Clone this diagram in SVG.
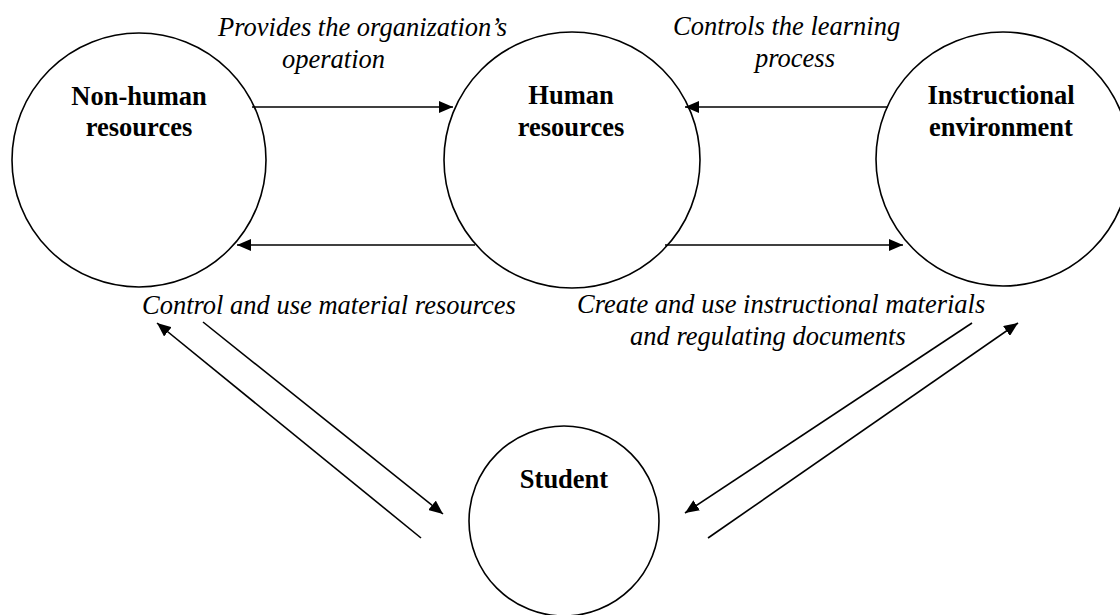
<svg xmlns="http://www.w3.org/2000/svg" width="1120" height="615" viewBox="0 0 1120 615">
  <style>
    .node { fill: #ffffff; stroke: #000000; stroke-width: 1.6; }
    .title { font-family: "Liberation Serif", "Times New Roman", serif; font-size: 26.5px; font-weight: bold; fill: #000000; text-anchor: middle; }
    .edge { stroke: #000000; stroke-width: 1.6; fill: none; marker-end: url(#head); }
    .note { font-family: "Liberation Serif", "Times New Roman", serif; font-size: 26.5px; font-style: italic; fill: #000000; }
  </style>
  <defs>
    <marker id="head" markerUnits="userSpaceOnUse" markerWidth="14" markerHeight="12" refX="14" refY="6" orient="auto">
      <path d="M0,0 L14,6 L0,12 z" fill="#000000"/>
    </marker>
  </defs>
  <rect width="1120" height="615" fill="#ffffff"/>

  <g id="non-human-resources">
    <circle class="node" cx="139" cy="160" r="127"/>
    <text class="title" x="139" y="105">Non-human</text>
    <text class="title" x="139" y="136">resources</text>
  </g>

  <g id="human-resources">
    <circle class="node" cx="572" cy="160" r="128"/>
    <text class="title" x="571" y="104">Human</text>
    <text class="title" x="571" y="136">resources</text>
  </g>

  <g id="instructional-environment">
    <circle class="node" cx="1003" cy="159" r="127"/>
    <text class="title" x="1001" y="104">Instructional</text>
    <text class="title" x="1001" y="136">environment</text>
  </g>

  <g id="student">
    <circle class="node" cx="564" cy="521" r="95"/>
    <text class="title" x="564" y="488">Student</text>
  </g>

  <g id="connectors">
    <line class="edge" x1="252" y1="107" x2="453" y2="107"/>
    <line class="edge" x1="888" y1="107" x2="685" y2="107"/>
    <line class="edge" x1="475" y1="245" x2="237" y2="245"/>
    <line class="edge" x1="665" y1="245" x2="903" y2="245"/>
    <line class="edge" x1="421" y1="538" x2="157" y2="323"/>
    <line class="edge" x1="203" y1="322" x2="443" y2="514"/>
    <line class="edge" x1="972" y1="323" x2="685" y2="513"/>
    <line class="edge" x1="708" y1="538" x2="1018" y2="323"/>
  </g>

  <g id="labels">
    <text class="note" x="218" y="36">Provides the organization’s</text>
    <text class="note" x="282" y="68">operation</text>
    <text class="note" x="673" y="35">Controls the learning</text>
    <text class="note" x="755" y="67">process</text>
    <text class="note" x="142" y="314">Control and use material resources</text>
    <text class="note" x="577" y="313">Create and use instructional materials</text>
    <text class="note" x="630" y="345">and regulating documents</text>
  </g>
</svg>
